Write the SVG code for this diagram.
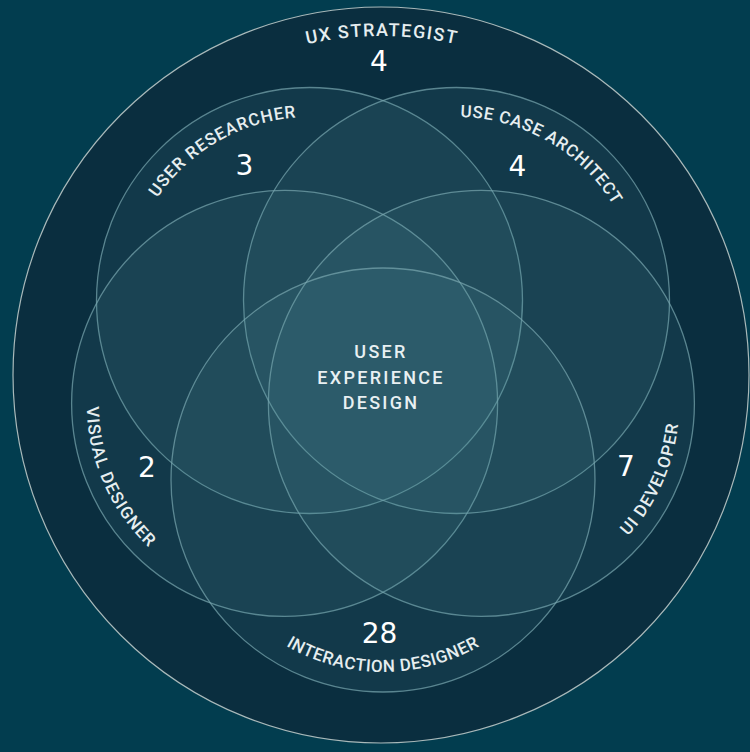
<svg xmlns="http://www.w3.org/2000/svg" width="750" height="752" viewBox="0 0 750 752">
<style>
.bg{fill:#023d4f}
.outer{fill:#0a2e3f;stroke:#a9b9ba;stroke-width:1.2}
.petal{fill:#5a9aa8;fill-opacity:0.11;stroke:#7aa8b1;stroke-opacity:0.7;stroke-width:1.3}
.lbl{font-family:Roboto,"Liberation Sans",sans-serif;font-weight:500;font-size:17px;fill:#e6eef0}
.num{font-family:"DejaVu Sans","Liberation Sans",sans-serif;font-size:28px;fill:#ffffff;text-anchor:middle}
.core{font-family:Roboto,"Liberation Sans",sans-serif;font-weight:500;font-size:18px;fill:#e8f0f2;text-anchor:middle;letter-spacing:2.3px}
</style>
<defs>
<path id="p-ux" d="M212.5 81.4 A339 339 0 0 1 551.5 81.4"/>
<path id="p-ur" d="M128.8 332.4 A183.5 183.5 0 0 1 427.4 159.9"/>
<path id="p-uca" d="M338.6 159.9 A183.5 183.5 0 0 1 637.2 332.4"/>
<path id="p-vd" d="M147.1 261.0 A198 198 0 0 0 298.4 600.9"/>
<path id="p-uid" d="M467.6 600.9 A198 198 0 0 0 618.9 261.0"/>
<path id="p-id" d="M202.6 545.7 A192 192 0 0 0 563.4 545.7"/>
</defs>
<rect class="bg" x="0" y="0" width="750" height="752"/>
<g id="ux-strategist">
<circle class="outer" cx="381" cy="375" r="368"/>
</g>
<g id="user-researcher">
<circle class="petal" cx="309.5" cy="300.5" r="213"/>
</g>
<g id="use-case-architect">
<circle class="petal" cx="456.5" cy="300.5" r="213"/>
</g>
<g id="visual-designer">
<circle class="petal" cx="284.6" cy="403.4" r="213"/>
</g>
<g id="ui-developer">
<circle class="petal" cx="481.4" cy="403.4" r="213"/>
</g>
<g id="interaction-designer">
<circle class="petal" cx="383" cy="480" r="212"/>
</g>
<g id="connectors"></g>
<g id="ux-strategist-label">
<text class="lbl" style="font-size:18px;letter-spacing:1.45px" text-anchor="middle"><textPath href="#p-ux" startOffset="50%">UX STRATEGIST</textPath></text>
<text class="num" x="379" y="71">4</text>
</g>
<g id="user-researcher-label">
<text class="lbl" style="letter-spacing:1px" text-anchor="middle"><textPath href="#p-ur" startOffset="50%">USER RESEARCHER</textPath></text>
<text class="num" x="244.5" y="175">3</text>
</g>
<g id="use-case-architect-label">
<text class="lbl" style="letter-spacing:0.65px" text-anchor="middle"><textPath href="#p-uca" startOffset="50%">USE CASE ARCHITECT</textPath></text>
<text class="num" x="517.5" y="176">4</text>
</g>
<g id="visual-designer-label">
<text class="lbl" style="letter-spacing:1.15px" text-anchor="middle"><textPath href="#p-vd" startOffset="50%">VISUAL DESIGNER</textPath></text>
<text class="num" x="147" y="477">2</text>
</g>
<g id="ui-developer-label">
<text class="lbl" style="letter-spacing:1.05px" text-anchor="middle"><textPath href="#p-uid" startOffset="50%">UI DEVELOPER</textPath></text>
<text class="num" x="626" y="476">7</text>
</g>
<g id="interaction-designer-label">
<text class="lbl" style="letter-spacing:0.55px" text-anchor="middle"><textPath href="#p-id" startOffset="50%">INTERACTION DESIGNER</textPath></text>
<text class="num" x="379.5" y="643">28</text>
</g>
<g id="user-experience-design">
<text class="core" x="381" y="358">USER</text>
<text class="core" x="381" y="384">EXPERIENCE</text>
<text class="core" x="381" y="409">DESIGN</text>
</g>
</svg>
